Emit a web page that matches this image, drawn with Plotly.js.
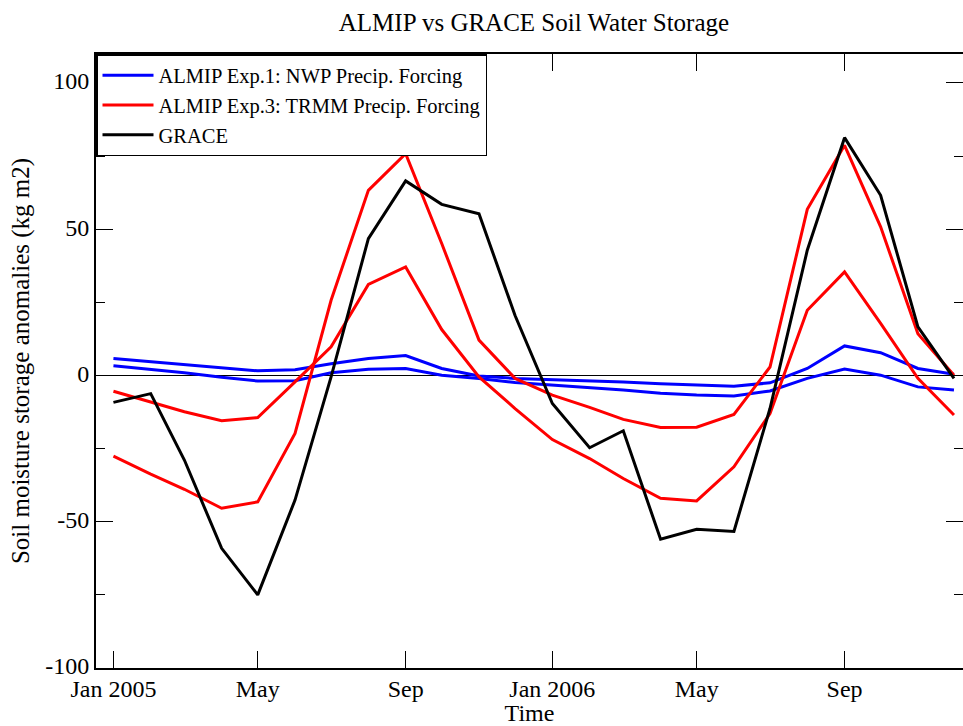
<!DOCTYPE html>
<html>
<head>
<meta charset="utf-8">
<script src="https://cdn.plot.ly/plotly-3.0.1.min.js"></script>
<style>
  html, body { margin: 0; padding: 0; background: #ffffff; }
  #chart { width: 963px; height: 726px; }
</style>
</head>
<body>
<div id="chart"></div>
<script>
// ---- Data ----
const months = [
  '2005-01-01','2005-02-01','2005-03-01','2005-04-01','2005-05-01','2005-06-01',
  '2005-07-01','2005-08-01','2005-09-01','2005-10-01','2005-11-01','2005-12-01',
  '2006-01-01','2006-02-01','2006-03-01','2006-04-01','2006-05-01','2006-06-01',
  '2006-07-01','2006-08-01','2006-09-01','2006-10-01','2006-11-01','2006-12-01'
];

// ALMIP Exp.1 (NWP precip forcing) - two curves
const nwpUpper = [5.8, 4.7, 3.8, 2.6, 1.6, 2.0, 4.0, 5.8, 6.8, 2.4, -0.2, -1.0,
                  -1.4, -1.6, -2.2, -2.8, -3.3, -3.7, -2.5, 2.4, 10.1, 7.8, 2.4, 0.4];
const nwpLower = [3.3, 2.1, 0.9, -0.6, -1.9, -1.8, 0.9, 2.1, 2.4, 0.1, -1.0, -2.4,
                  -3.3, -4.1, -5.0, -6.1, -6.7, -7.0, -5.3, -1.0, 2.2, 0.1, -3.9, -5.0];

// ALMIP Exp.3 (TRMM precip forcing) - two curves
const trmmA = [-27.6, -33.7, -38.9, -45.4, -43.2, -19.8, 25.7, 63.3, 75.8, 45.1, 12.1, -1.0,
               -6.7, -10.9, -15.0, -17.8, -17.7, -13.3, 2.9, 56.8, 78.7, 50.8, 14.3, 0.1];
const trmmB = [-5.4, -9.0, -12.4, -15.5, -14.4, -2.2, 9.8, 31.1, 37.1, 15.7, -0.5, -11.3,
               -21.9, -28.4, -35.2, -42.0, -42.9, -31.2, -13.0, 22.3, 35.4, 17.8, -1.0, -13.5];

// GRACE
const grace = [-9.2, -6.2, -28.9, -59.1, -75.0, -42.6, -0.5, 46.8, 66.5, 58.5, 55.3, 20.5,
               -9.6, -24.7, -18.9, -56.0, -52.6, -53.3, -11.3, 42.8, 81.3, 61.6, 16.6, -1.0];

// Axis ticks
const xTickVals = ['2005-01-01','2005-05-01','2005-09-01','2006-01-01','2006-05-01','2006-09-01'];
const xTickText = ['Jan 2005','May','Sep','Jan 2006','May','Sep'];
const yTickVals = [-100, -50, 0, 50, 100];
const yTickText = ['-100', '-50', '0', '50', '100'];
const yMinorVals = [-75, -25, 25, 75];

const names = ['ALMIP Exp.1: NWP Precip. Forcing', 'ALMIP Exp.3: TRMM Precip. Forcing', 'GRACE'];

// ---- Traces ----
const LW = 3;
const traces = [
  {x: months, y: nwpUpper, mode: 'lines', name: names[0], line: {color: '#0000ff', width: LW}, legendgroup: 'nwp'},
  {x: months, y: nwpLower, mode: 'lines', name: names[0], line: {color: '#0000ff', width: LW}, legendgroup: 'nwp', showlegend: false},
  {x: months, y: trmmA, mode: 'lines', name: names[1], line: {color: '#ff0000', width: LW}, legendgroup: 'trmm'},
  {x: months, y: trmmB, mode: 'lines', name: names[1], line: {color: '#ff0000', width: LW}, legendgroup: 'trmm', showlegend: false},
  {x: months, y: grace, mode: 'lines', name: names[2], line: {color: '#000000', width: LW}, legendgroup: 'grace'}
];

const FONT = 'Liberation Serif, Times New Roman, Times, serif';

const layout = {
  width: 963,
  height: 726,
  margin: {l: 96, r: 0, t: 54, b: 58, pad: 0},
  paper_bgcolor: '#ffffff',
  plot_bgcolor: '#ffffff',
  font: {family: FONT, color: '#000000', size: 24},
  showlegend: true,
  title: {
    text: 'ALMIP vs GRACE Soil Water Storage',
    font: {family: FONT, size: 25, color: '#000000'},
    xref: 'container', x: 0.5545, xanchor: 'center',
    yref: 'container', y: 1 - 22 / 726, yanchor: 'middle'
  },
  xaxis: {
    type: 'date',
    range: ['2004-12-17 12:00', '2006-12-08 12:00'],
    tickmode: 'array',
    tickvals: xTickVals,
    ticktext: xTickText,
    ticks: 'inside',
    ticklen: 17,
    tickwidth: 1,
    tickcolor: '#000000',
    showline: true,
    linecolor: '#000000',
    linewidth: 2,
    mirror: 'ticks',
    showgrid: false,
    zeroline: false,
    ticklabelstandoff: -2,
    tickfont: {family: FONT, size: 24, color: '#000000'},
    title: {text: 'Time', font: {family: FONT, size: 24, color: '#000000'}, standoff: 3}
  },
  yaxis: {
    range: [-100, 109.9],
    tickmode: 'array',
    tickvals: yTickVals,
    ticktext: yTickText,
    ticks: 'inside',
    ticklen: 17,
    tickwidth: 1,
    tickcolor: '#000000',
    minor: {tickmode: 'array', tickvals: yMinorVals, ticks: 'inside', ticklen: 9, tickwidth: 1, tickcolor: '#000000', showgrid: false},
    showline: true,
    linecolor: '#000000',
    linewidth: 2,
    mirror: 'ticks',
    showgrid: false,
    zeroline: true,
    zerolinecolor: '#000000',
    zerolinewidth: 1,
    ticklabelshift: -2,
    tickfont: {family: FONT, size: 24, color: '#000000'},
    title: {text: 'Soil moisture storage anomalies (kg m2)', font: {family: FONT, size: 25, color: '#000000'}, standoff: 8}
  },
  legend: {
    x: 0, y: 1, xanchor: 'left', yanchor: 'top',
    xref: 'paper', yref: 'paper',
    bgcolor: '#ffffff',
    bordercolor: '#000000',
    borderwidth: 1.5,
    font: {family: FONT, size: 20.5, color: '#000000'},
    itemwidth: 51,
    tracegroupgap: 0
  }
};

Plotly.newPlot('chart', traces, layout, {displayModeBar: false, staticPlot: true});
</script>
</body>
</html>
